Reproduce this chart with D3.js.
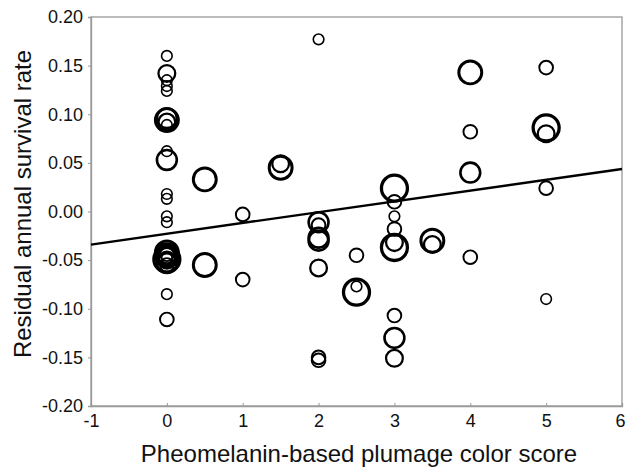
<!DOCTYPE html>
<html><head><meta charset="utf-8">
<script src="https://cdn.jsdelivr.net/npm/d3@7"></script>
<style>
html,body{margin:0;padding:0;background:#fff;}
svg{display:block;font-family:"Liberation Sans",Arial,sans-serif;}
</style></head>
<body><svg id="c" width="626" height="470"></svg>
<script>
// Data
const scores = [0,0,0,0,0, 0,0,0,0, 0,0, 0,0,0,0, 0,0,0,0,0,0,0,0,0,0, 0,0,
  0.5,0.5, 1,1, 1.5,1.5, 2,2,2,2,2,2,2,2, 2.5,2.5,2.5,
  3,3,3,3,3,3,3,3,3, 3.5,3.5, 4,4,4,4, 5,5,5,5,5];
const residuals = [0.160,0.142,0.135,0.129,0.124, 0.096,0.094,0.092,0.089, 0.062,0.053,
  0.018,0.013,-0.005,-0.011,
  -0.042,-0.045,-0.047,-0.050,-0.053,-0.055,-0.044,-0.048,-0.049,-0.046,
  -0.085,-0.111,
  0.033,-0.055, -0.003,-0.070, 0.045,0.049,
  0.177,-0.011,-0.014,-0.027,-0.030,-0.058,-0.150,-0.153,
  -0.045,-0.083,-0.077,
  0.024,0.010,-0.005,-0.018,-0.037,-0.032,-0.107,-0.130,-0.151,
  -0.030,-0.034, 0.143,0.082,0.040,-0.047,
  0.148,0.086,0.080,0.024,-0.090];
const weights = [1,3,1,1,1, 4,5,3,1, 1,4, 1,1,1,1,
  5,5,4,3,4,2,2,1,6,3,
  1,2,
  5,5, 2,2, 5,3, 1,4,2,4,4,3,2,2, 2,6,1,
  6,2,1,2,6,3,2,4,3, 5,3, 5,2,4,2, 2,6,3,2,1];
const fitIntercept = -0.0229;
const fitSlope = 0.0111;
const xTicks = [-1,0,1,2,3,4,5,6];
const yTicks = [-0.20,-0.15,-0.10,-0.05,0.00,0.05,0.10,0.15,0.20];
const xTitle = "Pheomelanin-based plumage color score";
const yTitle = "Residual annual survival rate";

const svg = d3.select("#c");
const L = 91, R = 622, T = 17, B = 406;
const x = d3.scaleLinear().domain([-1,6]).range([L,R]);
const y = d3.scaleLinear().domain([-0.2,0.2]).range([B,T]);
const rS = d3.scaleLinear().domain([1,6]).range([5.3,13]);
const swS = d3.scaleLinear().domain([1,6]).range([1.6,3.3]);
const hy = f => d => f(d).replace("\u2212","-");

// frame
svg.append("rect").attr("x",L).attr("y",T).attr("width",R-L).attr("height",B-T)
  .attr("fill","none").attr("stroke","#999").attr("stroke-width",1.3);

const xAxis = svg.append("g").attr("transform",`translate(0,${B})`)
  .call(d3.axisBottom(x).tickValues(xTicks).tickFormat(hy(d3.format("d"))).tickSize(-3).tickPadding(8));
const yAxis = svg.append("g").attr("transform",`translate(${L},0)`)
  .call(d3.axisLeft(y).tickValues(yTicks).tickFormat(hy(d3.format(".2f"))).tickSize(3).tickPadding(5));
[xAxis,yAxis].forEach(a=>{
  a.select(".domain").attr("stroke","#999").attr("stroke-width",1.3);
  a.selectAll(".tick line").attr("stroke","#999");
  a.selectAll(".tick text").attr("fill","#111").style("font-size","18px").style("font-family","Liberation Sans, Arial, sans-serif");
});
// keep the last x tick label inside the page edge
xAxis.selectAll(".tick text").filter(d=>d===6).attr("dx",-2);

// points
const pts = scores.map((s,i)=>({s, v:residuals[i], w:weights[i]}));
svg.append("g").selectAll("circle").data(pts).join("circle")
  .attr("cx",d=>x(d.s)).attr("cy",d=>y(d.v)).attr("r",d=>rS(d.w))
  .attr("fill","none").attr("stroke","#000").attr("stroke-width",d=>swS(d.w));

// regression line
const line = d3.line().x(d=>x(d)).y(d=>y(fitIntercept+fitSlope*d));
svg.append("path").datum([-1,6]).attr("d",line).attr("stroke","#000").attr("stroke-width",2.4).attr("fill","none");

svg.append("text").attr("x",359).attr("y",462).attr("text-anchor","middle")
  .style("font-size","24px").attr("fill","#111").text(xTitle);
svg.append("text").attr("transform",`translate(31,${204}) rotate(-90)`).attr("text-anchor","middle")
  .style("font-size","24px").attr("fill","#111").text(yTitle);
</script></body></html>
